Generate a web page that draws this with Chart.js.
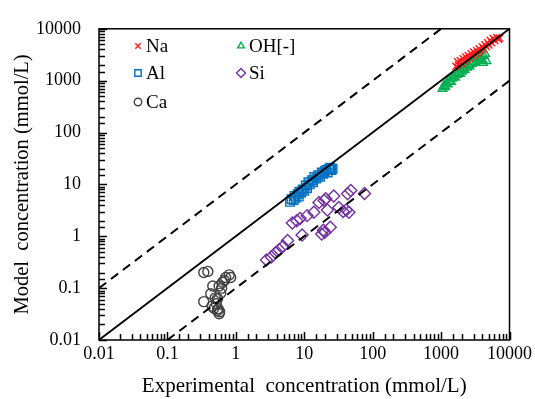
<!DOCTYPE html>
<html>
<head>
<meta charset="utf-8">
<script src="https://cdn.jsdelivr.net/npm/chart.js@4/dist/chart.umd.min.js"></script>
<style>
html,body{margin:0;padding:0;background:#fff;}
</style>
</head>
<body>
<canvas id="grafico" width="535" height="399"></canvas>
<script>
// ---- dados ----
const naX = [1650,1750,1800,1900,2000,2100,2200,2300,2400,2500,2600,2750,2900,3000,3150,3300,3450,3600,3800,4000,4200,4400,4600,4800,5000,5200,5500,5800,6100,6500,6900,7200];
const naY = [1900,2300,2000,2450,2150,2650,2350,2850,2550,3050,2750,3300,3000,3550,3250,3800,3500,4100,3800,4500,4100,4900,4500,5400,4900,6000,5400,6500,5900,6800,6300,6600];

const alX = [6.2,6.5,7,7.2,7.5,8,8.3,8.5,9,9.5,10,10.5,11,11.5,12,13,13.5,14,15,16,17,18,19,20,21,22,23,24,25,26];
const alY = [4.6,5.2,5,6,5.5,6.5,5.8,7.2,7,8,7.5,9.5,8.5,11,10,12,11,14,13,15,14,17,16,18,19,17,20,21,19,20];

const caX = [0.34,0.39,0.34,0.43,0.48,0.54,0.57,0.54,0.57,0.64,0.71,0.80,0.84,0.46,0.60,0.52,0.45,0.50,0.62,0.58,0.55,0.68];
const caY = [0.20,0.21,0.055,0.078,0.041,0.037,0.032,0.063,0.11,0.13,0.16,0.18,0.16,0.11,0.08,0.05,0.045,0.065,0.10,0.035,0.04,0.14];

const ohX = [1050,1100,1150,1200,1250,1300,1400,1450,1500,1600,1700,1800,1900,2000,2100,2200,2400,2500,2600,2800,3000,3200,3400,3600,3800,4000,4200,3700,3300,4100,4600,4400];
const ohY = [700,800,750,900,850,1000,950,1100,1200,1150,1300,1400,1350,1500,1700,1600,1800,2000,1900,2100,2300,2200,2600,2400,2800,2500,3000,3200,2900,2200,2400,3300];

const siX = [2.8,3.3,3.8,4.3,4.9,5.7,6.7,7.8,8.7,9.3,11,13.8,16.4,19.5,20.6,21.8,27,18,19,24,20,32,41,43,48,76,37,45];
const siY = [0.35,0.40,0.48,0.55,0.64,0.83,1.8,2.0,2.2,1.06,2.5,2.9,4.5,4.9,5.3,3.2,6.0,1.1,1.3,1.5,1.2,3.6,3.2,6.6,7.6,6.7,3.0,2.9];

// linhas 1:1 e fator 10
const lineX = [0.01, 10000];
const line1Y = [0.01, 10000];
const lineUpX = [0.01, 1000];
const lineUpY = [0.1, 10000];
const lineDnX = [0.1, 10000];
const lineDnY = [0.01, 1000];

const tickLabels = ["0.01","0.1","1","10","100","1000","10000"];

function pts(xs, ys){ return xs.map((x,i)=>({x:x, y:ys[i]})); }

const serif = "'Liberation Serif', 'Times New Roman', serif";

function scatter(label, xs, ys, color, style, r){
return {type:"scatter", label:label, data:pts(xs,ys), order:1,
 pointStyle:style, pointRadius:r, pointHoverRadius:r,
 borderColor:color, backgroundColor:"rgba(0,0,0,0)", pointBorderWidth:1.4};
}

function refLine(xs, ys, dash){
return {type:"line", data:pts(xs,ys), order:0, borderColor:"#000", borderWidth:dash?2:1.8,
 borderDash:dash?[9,6]:[], pointRadius:0, fill:false, showLine:true, label:""};
}

const datasets = [
 refLine(lineX, line1Y, false),
 refLine(lineUpX, lineUpY, true),
 refLine(lineDnX, lineDnY, true),
 scatter("Na", naX, naY, "#FF1A1A", "crossRot", 5),
 scatter("Al", alX, alY, "#0070C0", "rect", 6),
 scatter("Ca", caX, caY, "#404040", "circle", 5),
 scatter("OH[-]", ohX, ohY, "#00B050", "triangle", 5),
 scatter("Si", siX, siY, "#7030A0", "rectRot", 6)
];

// legenda dentro da área do gráfico
const legendPos = {"Na":[138,46],"Al":[138,73],"Ca":[138,102],"OH[-]":[241,46],"Si":[241,73]};

function isMajor(v){
 const e = Math.log10(v);
 return Math.abs(e - Math.round(e)) < 1e-6;
}

const moldura = {
id:"moldura",
afterDraw(chart){
 const ctx = chart.ctx, a = chart.chartArea;
 const sx = chart.scales.x, sy = chart.scales.y;
 ctx.save();
 ctx.setLineDash([]);
 ctx.strokeStyle = "#000";
 // ticks para dentro
 ctx.lineWidth = 1.5;
 ctx.beginPath();
 sx.ticks.forEach(t=>{
  const p = Math.round(sx.getPixelForValue(t.value)) + 0.5;
  ctx.moveTo(p, a.bottom);
  ctx.lineTo(p, a.bottom - (isMajor(t.value) ? 8 : 6));
 });
 sy.ticks.forEach(t=>{
  const p = Math.round(sy.getPixelForValue(t.value)) + 0.5;
  ctx.moveTo(a.left, p);
  ctx.lineTo(a.left + (isMajor(t.value) ? 8 : 6), p);
 });
 ctx.stroke();
 ctx.lineWidth = 1.5;
 ctx.strokeRect(a.left, a.top, a.right - a.left, a.bottom - a.top);
 // legenda
 ctx.font = "19px " + serif;
 ctx.textBaseline = "middle";
 ctx.textAlign = "left";
 chart.data.datasets.forEach(ds=>{
  const pos = legendPos[ds.label];
  if(!pos) return;
  ctx.strokeStyle = ds.borderColor;
  ctx.fillStyle = "rgba(0,0,0,0)";
  ctx.lineWidth = 1.4;
  Chart.helpers.drawPoint(ctx, {pointStyle:ds.pointStyle, radius:ds.pointRadius*0.75, rotation:0, borderWidth:1.4}, pos[0], pos[1]);
  ctx.fillStyle = "#000";
  ctx.fillText(ds.label, pos[0] + 8, pos[1] + 1);
 });
 ctx.restore();
}
};

function tickCb(value){
 if (!isMajor(value)) return "";
 return tickLabels[Math.round(Math.log10(value)) + 2] || "";
}

new Chart(document.getElementById("grafico"),{
type:"scatter",
data:{datasets:datasets},
options:{
 responsive:false,
 animation:false,
 devicePixelRatio:1,
 layout:{padding:{top:15,right:22,left:0,bottom:0}},
 plugins:{legend:{display:false},tooltip:{enabled:false}},
 scales:{
  x:{
   type:"logarithmic", min:0.01, max:10000, position:"bottom",
   grid:{display:false, drawTicks:false},
   border:{display:false},
   ticks:{autoSkip:false, maxRotation:0, padding:3, color:"#000", font:{family:serif, size:18}, callback:tickCb},
   title:{display:true, text:"Experimental  concentration (mmol/L)", color:"#000", font:{family:serif, size:21, lineHeight:0.7}, padding:{top:0,bottom:5}},
   afterFit(s){ s.height = 59; }
  },
  y:{
   type:"logarithmic", min:0.01, max:10000,
   grid:{display:false, drawTicks:false},
   border:{display:false},
   ticks:{autoSkip:false, padding:18, color:"#000", font:{family:serif, size:18}, callback:tickCb},
   title:{display:true, text:"Model  concentration (mmol/L)", color:"#000", font:{family:serif, size:20.5}, padding:{top:10,bottom:0}},
   afterFit(s){ s.width = 99; }
  }
 }
},
plugins:[moldura]
});
</script>
</body>
</html>
